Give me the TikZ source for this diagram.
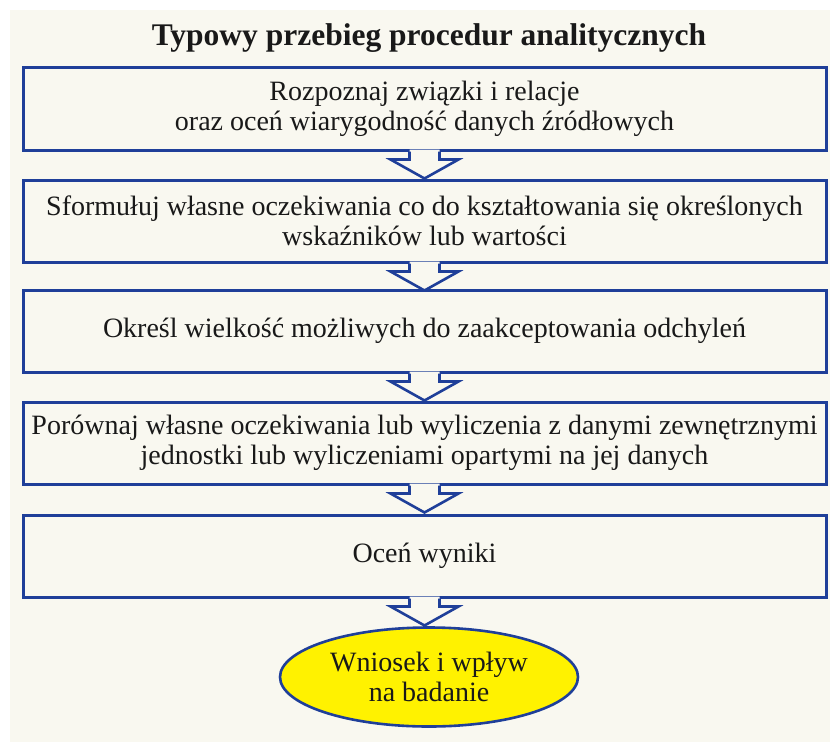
\documentclass[tikz,border=0pt]{standalone}
\usepackage{fontspec}
\setmainfont{Liberation Serif}
\usetikzlibrary{shapes.geometric}
\definecolor{bg}{HTML}{F9F8F0}
\definecolor{bl}{HTML}{1F3F99}
\definecolor{yl}{HTML}{FFF200}
\begin{document}
\begin{tikzpicture}[x=1pt,y=-1pt,
  box/.style={draw=bl,line width=3pt,minimum width=803pt,minimum height=82pt,inner sep=0pt,align=center,font=\fontsize{28}{30}\selectfont,text=black!90},
  flowarrow/.style={draw=bl,line width=2.6pt,line join=miter},
  endnode/.style={ellipse,draw=bl,line width=2.6pt,fill=yl,minimum width=298pt,minimum height=99pt,inner sep=0pt,align=center,font=\fontsize{28}{30}\selectfont,text=black!90}]
\useasboundingbox (0,0) rectangle (830,742);
\fill[bg] (10,10) rectangle (830,742);
\node[font=\bfseries\fontsize{31.5}{34}\selectfont,anchor=base,text=black!90] (title) at (429,45) {Typowy przebieg procedur analitycznych};
\node[box,minimum height=83pt] (b1) at (424.5,108.5) {Rozpoznaj związki i relacje\\oraz oceń wiarygodność danych źródłowych};
\node[box] (b2) at (424.5,221) {Sformułuj własne oczekiwania co do kształtowania się określonych\\wskaźników lub wartości};
\node[box] (b3) at (424.5,331) {Określ wielkość możliwych do zaakceptowania odchyleń};
\node[box] (b4) at (424.5,443) {Porównaj własne oczekiwania lub wyliczenia z danymi zewnętrznymi\\jednostki lub wyliczeniami opartymi na jej danych};
\node[box] (b5) at (424.5,556) {Oceń wyniki};
\node[endnode] (e) at (429,677) {Wniosek i wpływ\\na badanie};
\foreach \s in {b1,b2,b3,b4,b5}{
  \fill[bg] ([shift={(-15,-2)}]\s.south) -- ([shift={(-15,8)}]\s.south) -- ([shift={(-34,8)}]\s.south) -- ([shift={(0,27)}]\s.south) -- ([shift={(34,8)}]\s.south) -- ([shift={(15,8)}]\s.south) -- ([shift={(15,-2)}]\s.south) -- cycle;
  \draw[flowarrow] ([shift={(-15,0)}]\s.south) -- ([shift={(-15,8)}]\s.south) -- ([shift={(-34,8)}]\s.south) -- ([shift={(0,27)}]\s.south) -- ([shift={(34,8)}]\s.south) -- ([shift={(15,8)}]\s.south) -- ([shift={(15,0)}]\s.south);
}
\end{tikzpicture}
\end{document}
